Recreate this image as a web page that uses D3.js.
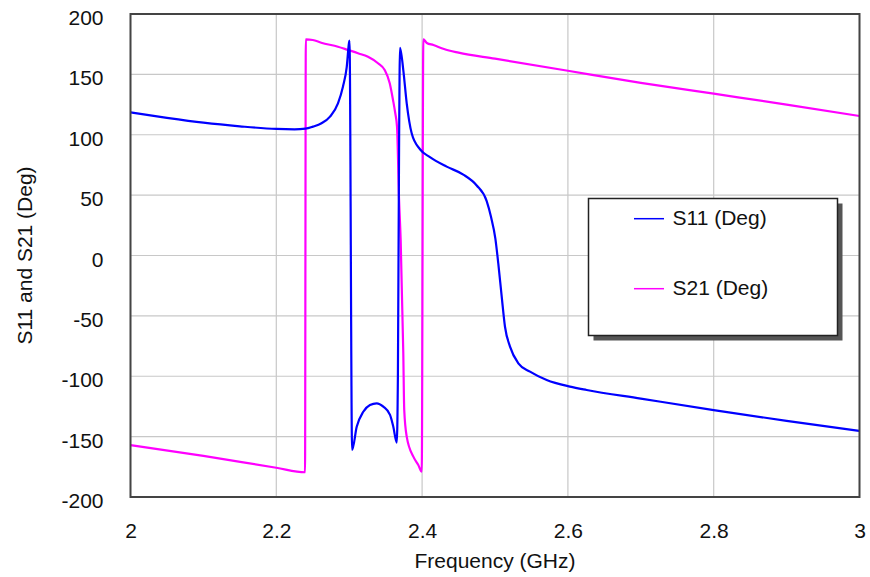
<!DOCTYPE html>
<html>
<head>
<meta charset="utf-8">
<script src="https://cdn.jsdelivr.net/npm/d3@7/dist/d3.min.js"></script>
<style>
  html, body { margin: 0; padding: 0; background: #fff; }
  svg { display: block; font-family: "Liberation Sans", Arial, sans-serif; }
</style>
</head>
<body>
<svg id="chart" width="870" height="577"></svg>
<script>
// Frequency sweep (GHz) and phase (degrees) for S11
const s11Freq = [2.000, 2.050, 2.100, 2.150, 2.200, 2.225, 2.240, 2.2503, 2.262, 2.2737, 2.2846, 2.2915, 2.2966, 2.2997, 2.3004,
  2.3040, 2.3103, 2.3193, 2.3285, 2.3377, 2.3468, 2.3560, 2.3605, 2.3652, 2.3668, 2.3685, 2.3697,
  2.3742, 2.3789, 2.3857, 2.3971, 2.4108, 2.4337, 2.4565, 2.4749, 2.4886, 2.4945, 2.5005, 2.5045, 2.5092,
  2.5137, 2.5206, 2.5320, 2.5480, 2.5709, 2.6029, 2.6258, 2.700, 2.800, 2.900, 3.000];
const s11Deg = [118.5, 114, 110, 107, 104.8, 104.5, 105, 106.7, 109.5, 115, 126, 140, 156, 176, 178,
  -161, -141.8, -129.4, -123.8, -122.4, -125.2, -132, -141.8, -155, -100, 100, 172,
  153.6, 126, 101.2, 88, 81.5, 73.6, 67, 58, 45, 32, 14, -6.5, -34.1,
  -59, -75.5, -89.3, -96.2, -103.1, -108.6, -111.4, -118.5, -128, -137, -145.3];

// Frequency sweep (GHz) and phase (degrees) for S21
const s21Freq = [2.000, 2.100, 2.200, 2.2394, 2.2405, 2.2500, 2.2617, 2.2846, 2.2984, 2.3121, 2.3258, 2.3395,
  2.3487, 2.3556, 2.3601, 2.3632, 2.3656, 2.3684, 2.3706, 2.3742, 2.3755, 2.3789, 2.3880, 2.3948, 2.3995,
  2.4017, 2.4065, 2.4155, 2.4300, 2.4500, 2.5000, 2.6000, 2.7000, 2.8000, 2.9000, 3.0000];
const s21Deg = [-157, -166, -175.8, -179.5, 179, 178.5, 176.2, 172.9, 170.2, 167.5, 164.6, 159.2,
  153.6, 142.6, 128.8, 117.8, 106.7, 46, 13, -81, -128, -150, -166.6, -173.5, -179,
  179, 176, 174.3, 171, 168, 163, 153, 143, 134, 125, 115.5];

const xTicks = [2, 2.2, 2.4, 2.6, 2.8, 3];
const yTicks = [-200, -150, -100, -50, 0, 50, 100, 150, 200];
const seriesNames = ["S11 (Deg)", "S21 (Deg)"];
const seriesColors = ["#0000ff", "#ff00ff"];

const svg = d3.select("#chart");
const plot = { left: 130.5, right: 859.5, top: 14, bottom: 497 };

const x = d3.scaleLinear().domain([2, 3]).range([plot.left, plot.right]);
const y = d3.scaleLinear().domain([-200, 200]).range([plot.bottom, plot.top]);

svg.append("rect").attr("width", 870).attr("height", 577).attr("fill", "#fff");

// Grid
const grid = svg.append("g").attr("stroke", "#c8c8c8").attr("stroke-width", 1.2);
grid.selectAll("line.v").data(xTicks).join("line")
  .attr("x1", d => x(d)).attr("x2", d => x(d))
  .attr("y1", plot.top).attr("y2", plot.bottom);
grid.selectAll("line.h").data(yTicks).join("line")
  .attr("x1", plot.left).attr("x2", plot.right)
  .attr("y1", d => y(d)).attr("y2", d => y(d));

// Axes (labels only)
const xAxis = svg.append("g")
  .attr("transform", `translate(0,${plot.bottom})`)
  .call(d3.axisBottom(x).tickValues(xTicks).tickSize(0).tickPadding(26).tickFormat(d => String(d)));
const yAxis = svg.append("g")
  .attr("transform", `translate(${plot.left},0)`)
  .call(d3.axisLeft(y).tickValues(yTicks).tickSize(0).tickPadding(27).tickFormat(d => String(d)));
[xAxis, yAxis].forEach(g => {
  g.select(".domain").remove();
  g.selectAll("text").attr("font-size", 21).attr("fill", "#111")
    .attr("font-family", "'Liberation Sans', Arial, sans-serif");
});
yAxis.selectAll("text").attr("dy", "0.5em");

// Curves
const line = d3.line().x(d => x(d[0])).y(d => y(d[1])).curve(d3.curveMonotoneX);
const s11 = d3.zip(s11Freq, s11Deg);
const s21 = d3.zip(s21Freq, s21Deg);
const curves = svg.append("g").attr("fill", "none").attr("stroke-width", 2.2)
  .attr("stroke-linejoin", "round");
curves.append("path").datum(s21).attr("stroke", seriesColors[1]).attr("d", line);
curves.append("path").datum(s11).attr("stroke", seriesColors[0]).attr("d", line);

// Plot frame
svg.append("rect")
  .attr("x", plot.left).attr("y", plot.top)
  .attr("width", plot.right - plot.left).attr("height", plot.bottom - plot.top)
  .attr("fill", "none").attr("stroke", "#444").attr("stroke-width", 2);

// Axis titles
svg.append("text")
  .attr("x", (plot.left + plot.right) / 2).attr("y", 568)
  .attr("text-anchor", "middle").attr("font-size", 21).attr("fill", "#111")
  .text("Frequency (GHz)");
svg.append("text")
  .attr("transform", `translate(32,${(plot.top + plot.bottom) / 2}) rotate(-90)`)
  .attr("text-anchor", "middle").attr("font-size", 21).attr("fill", "#111")
  .text("S11 and S21 (Deg)");

// Legend
const lg = { x: 588.5, y: 198.5, w: 249, h: 137 };
svg.append("rect")
  .attr("x", lg.x + 5).attr("y", lg.y + 5).attr("width", lg.w).attr("height", lg.h)
  .attr("fill", "#555");
svg.append("rect")
  .attr("x", lg.x).attr("y", lg.y).attr("width", lg.w).attr("height", lg.h)
  .attr("fill", "#fff").attr("stroke", "#222").attr("stroke-width", 1.5);
const legendRows = [218.7, 288.7];
seriesNames.forEach((name, i) => {
  svg.append("line")
    .attr("x1", 634).attr("x2", 664)
    .attr("y1", legendRows[i]).attr("y2", legendRows[i])
    .attr("stroke", seriesColors[i]).attr("stroke-width", 1.5);
  svg.append("text")
    .attr("x", 672.5).attr("y", legendRows[i] + 6.5)
    .attr("font-size", 21).attr("fill", "#111")
    .text(name);
});
</script>
</body>
</html>
